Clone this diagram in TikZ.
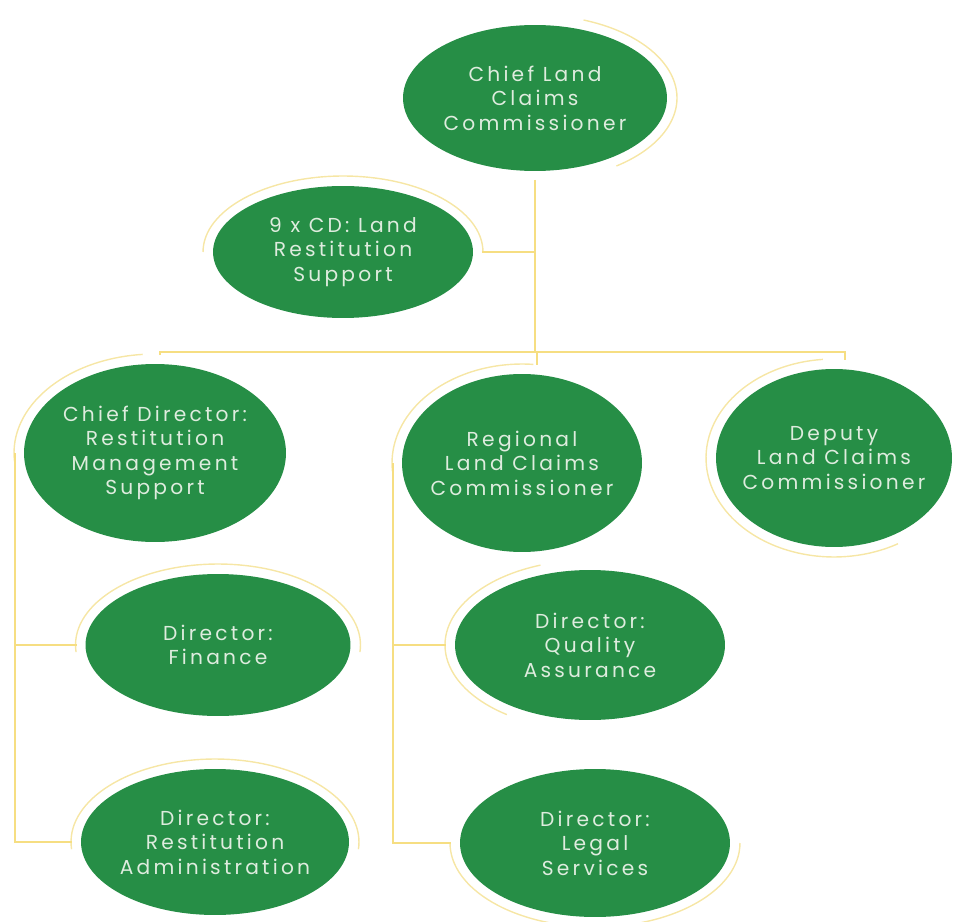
\documentclass[tikz,border=0pt]{standalone}
\usepackage{fontspec}
\setmainfont{Poppins}[LetterSpace=16]
\usetikzlibrary{shapes.geometric}
\definecolor{unitgreen}{RGB}{38,142,70}
\definecolor{unittext}{RGB}{222,236,222}
\definecolor{linkyellow}{RGB}{246,222,130}
\definecolor{haloyellow}{RGB}{246,230,165}
\tikzset{
  unit/.style={ellipse, fill=unitgreen, inner sep=0pt, outer sep=5pt, label={[unitlbl]center:{#1}}},
  unitlbl/.style={text=unittext, align=center, font=\fontsize{11.5}{14}\selectfont},
  link/.style={linkyellow, line width=0.9pt},
  halo/.style={haloyellow, line width=0.8pt}
}
\begin{document}
\begin{tikzpicture}[x=0.02cm,y=0.02cm]
\useasboundingbox (0,0) rectangle (967,-922);
% units
\node[unit={Chief Land\\Claims\\Commissioner}, minimum width=5.28cm, minimum height=2.92cm] (clcc) at (535,-98) {};
\node[unit={9 x CD: Land\\Restitution\\Support}, minimum width=5.2cm, minimum height=2.64cm] (cdlrs) at (343,-252) {};
\node[unit={Chief Director:\\Restitution\\Management\\Support}, minimum width=5.24cm, minimum height=3.56cm] (cdrms) at (155,-453) {};
\node[unit={Regional\\Land Claims\\Commissioner}, minimum width=4.8cm, minimum height=3.56cm] (rlcc) at (522,-463) {};
\node[unit={Deputy\\Land Claims\\Commissioner}, minimum width=4.72cm, minimum height=3.56cm] (dlcc) at (834,-458) {};
\node[unit={Director:\\Finance}, minimum width=5.3cm, minimum height=2.84cm] (dfin) at (218,-645) {};
\node[unit={Director:\\Restitution\\Administration}, minimum width=5.36cm, minimum height=2.92cm] (dra) at (215,-842) {};
\node[unit={Director:\\Quality\\Assurance}, minimum width=5.4cm, minimum height=3cm] (dqa) at (590,-645) {};
\node[unit={Director:\\Legal\\Services}, minimum width=5.4cm, minimum height=2.96cm] (dls) at (595,-843) {};
% halos
\draw[halo] (clcc.center) ++(70:2.84cm and 1.66cm) arc[start angle=70, end angle=-55, x radius=2.84cm, y radius=1.66cm];
\draw[halo] (cdlrs.center) ++(180:2.8cm and 1.52cm) arc[start angle=180, end angle=0, x radius=2.8cm, y radius=1.52cm];
\draw[halo] (cdrms.center) ++(95:2.82cm and 1.98cm) arc[start angle=95, end angle=185, x radius=2.82cm, y radius=1.98cm];
\draw[halo] (rlcc.center) ++(85:2.6cm and 1.98cm) arc[start angle=85, end angle=185, x radius=2.6cm, y radius=1.98cm];
\draw[halo] (dlcc.center) ++(95:2.56cm and 1.98cm) arc[start angle=95, end angle=300, x radius=2.56cm, y radius=1.98cm];
\draw[halo] (dfin.center) ++(185:2.85cm and 1.62cm) arc[start angle=185, end angle=-5, x radius=2.85cm, y radius=1.62cm];
\draw[halo] (dra.center) ++(185:2.88cm and 1.66cm) arc[start angle=185, end angle=-5, x radius=2.88cm, y radius=1.66cm];
\draw[halo] (dqa.center) ++(110:2.9cm and 1.7cm) arc[start angle=110, end angle=235, x radius=2.9cm, y radius=1.7cm];
\draw[halo] (dls.center) ++(180:2.9cm and 1.68cm) arc[start angle=180, end angle=360, x radius=2.9cm, y radius=1.68cm];
% links
\coordinate (bar) at (537,-352);
\coordinate (barl) at (160,-352);
\coordinate (barr) at (845,-352);
\draw[link] (clcc.south) -- (clcc.south |- bar);
\draw[link] (cdlrs.east) -- (cdlrs.east -| clcc.south);
\draw[link] (barl |- cdrms.north) -- (barl) -- (barr) -- (barr |- dlcc.north);
\draw[link] (bar) -- (bar |- rlcc.north);
\draw[link] (cdrms.west) -- (cdrms.west |- dra.west) -- (dra.west);
\draw[link] (cdrms.west |- dfin.west) -- (dfin.west);
\draw[link] (rlcc.west) -- (rlcc.west |- dls.west) -- (dls.west);
\draw[link] (rlcc.west |- dqa.west) -- (dqa.west);
\end{tikzpicture}
\end{document}
